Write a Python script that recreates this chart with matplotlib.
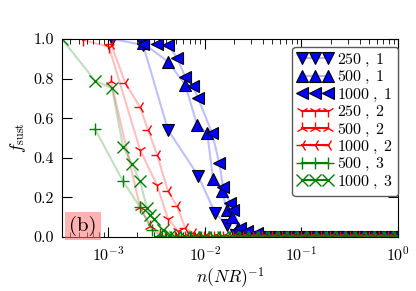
import matplotlib
matplotlib.use("Agg")
import matplotlib.pyplot as plt

plt.rcParams['font.family'] = 'serif'
plt.rcParams['font.serif'] = ['cmr10']
plt.rcParams['mathtext.fontset'] = 'cm'
plt.rcParams['axes.formatter.use_mathtext'] = True

# data: x = n/(NR), y = f_sust
b250_x = [1.1e-3, 2.3e-3, 4.17e-3, 8.53e-3, 1.28e-2, 1.70e-2, 2.1e-2]
b250_y = [1.0, 0.97, 0.54, 0.31, 0.12, 0.06, 0.01]
b500_x = [2.3e-3, 4.17e-3, 6.26e-3, 8.34e-3, 1.06e-2, 1.22e-2, 1.51e-2, 1.70e-2, 1.92e-2, 2.21e-2, 2.61e-2]
b500_y = [0.98, 0.885, 0.77, 0.565, 0.525, 0.29, 0.23, 0.135, 0.10, 0.045, 0.015]
b1000_x = [2.3e-3, 3.21e-3, 4.17e-3, 5.17e-3, 6.26e-3, 7.57e-3, 8.53e-3, 1.19e-2, 1.41e-2, 1.55e-2,
           1.83e-2, 1.96e-2, 2.32e-2, 2.74e-2, 3.48e-2]
b1000_y = [0.975, 0.975, 0.97, 0.905, 0.81, 0.76, 0.70, 0.525, 0.375, 0.25, 0.17, 0.135, 0.045, 0.03, 0.02]

r250_x = [5.5e-4, 1.02e-3, 2.14e-3, 3.21e-3, 4.17e-3, 5.29e-3]
r250_y = [0.995, 0.96, 0.44, 0.26, 0.09, 0.03]
r500_x = [1.07e-3, 2.14e-3, 2.72e-3, 3.45e-3]
r500_y = [0.79, 0.15, 0.055, 0.015]
r1000_x = [1.07e-3, 1.50e-3, 2.14e-3, 2.59e-3, 3.21e-3, 4.17e-3, 5.17e-3, 6.26e-3, 7.57e-3]
r1000_y = [0.975, 0.78, 0.655, 0.54, 0.415, 0.23, 0.155, 0.045, 0.02]

g500_x = [7.32e-4, 1.43e-3, 2.14e-3, 2.85e-3, 3.45e-3]
g500_y = [0.545, 0.28, 0.15, 0.035, 0.005]
g1000_x = [3.33e-4, 7.32e-4, 1.10e-3, 1.43e-3, 1.77e-3, 2.14e-3, 2.53e-3, 2.72e-3, 2.99e-3, 3.70e-3, 4.37e-3]
g1000_y = [1.0, 0.79, 0.75, 0.455, 0.37, 0.28, 0.145, 0.11, 0.09, 0.035, 0.01]

# points in the flat tail, all at f_sust = 0
tail_x = [0.0036, 0.0039, 0.0042, 0.0045, 0.0049, 0.0053, 0.0057, 0.0062, 0.0067, 0.0072,
          0.0078, 0.0084, 0.0091, 0.0098, 0.0106, 0.0115, 0.0124, 0.0134, 0.0145, 0.0156,
          0.0169, 0.0182, 0.0197, 0.0213, 0.023, 0.0248, 0.0268, 0.029, 0.0313, 0.0338,
          0.0365, 0.0394, 0.0426, 0.046, 0.0497, 0.0536, 0.0579, 0.0626, 0.0676, 0.073,
          0.0788, 0.0851, 0.0919, 0.0993, 0.107, 0.116, 0.125, 0.135, 0.146, 0.158,
          0.17, 0.184, 0.199, 0.215, 0.232, 0.25, 0.27, 0.292, 0.315, 0.34,
          0.368, 0.397, 0.429, 0.463, 0.5, 0.54, 0.583, 0.63, 0.68, 0.735,
          0.794, 0.857, 0.926, 1.0]

series = [
    (b250_x, b250_y, 'v', 'blue', r'$250\;,\;1$'),
    (b500_x, b500_y, '^', 'blue', r'$500\;,\;1$'),
    (b1000_x, b1000_y, '<', 'blue', r'$1000\;,\;1$'),
    (r250_x, r250_y, '1', 'red', r'$250\;,\;2$'),
    (r500_x, r500_y, '2', 'red', r'$500\;,\;2$'),
    (r1000_x, r1000_y, '3', 'red', r'$1000\;,\;2$'),
    (g500_x, g500_y, '+', 'green', r'$500\;,\;3$'),
    (g1000_x, g1000_y, 'x', 'green', r'$1000\;,\;3$'),
]

fig = plt.figure(figsize=(4.16, 2.91), dpi=100)
ax = fig.add_axes([0.149, 0.186, 0.808, 0.68])

for i, (xs, ys, m, c, lab) in enumerate(series):
    tx = [t for t in tail_x[i % 3::3] if t > xs[-1]]
    x = xs + tx
    y = ys + [0.0] * len(tx)
    filled = m in ('v', '^', '<')
    ax.plot(x, y, '-', color=c, alpha=0.25, lw=1.5)
    if filled:
        ax.plot(x, y, m, ms=9, mfc=c, mec='black', mew=0.8, ls='none')
        ax.plot([], [], m, ms=9, mfc=c, mec='black', mew=0.8, ls='-', color=(0.7, 0.7, 1.0), label=lab)
    else:
        ax.plot(x, y, m, ms=9, color=c, mew=1.0, ls='none')
        ax.plot([], [], m, ms=9, color=c, mew=1.0, ls='-', label=lab)

ax.set_xscale('log')
ax.set_xlim(1 / 3000, 1)
ax.set_ylim(0, 1)
ax.set_yticks([0, 0.2, 0.4, 0.6, 0.8, 1.0])
ax.set_yticklabels(['0.0', '0.2', '0.4', '0.6', '0.8', '1.0'])
ax.tick_params(which='both', direction='in', top=True, right=True, labelsize=11.5)
ax.tick_params(which='major', length=7, pad=6)
ax.tick_params(which='minor', length=3.5)
ax.set_xlabel(r'$n(NR)^{-1}$', fontsize=12.5, labelpad=1)
ax.set_ylabel(r'$f_{\rm sust}$', fontsize=12.5)

ax.text(0.022, 0.03, '(b)', transform=ax.transAxes, fontsize=15,
        bbox=dict(facecolor=(1.0, 0.45, 0.45), alpha=0.55, edgecolor='none', pad=3))

leg = ax.legend(loc='upper right', bbox_to_anchor=(1.0, 0.96), borderaxespad=0,
                numpoints=3, fontsize=11.5, labelspacing=0.02, handlelength=2.2,
                handletextpad=0.3, borderpad=0.3, framealpha=1, fancybox=True)
leg.get_frame().set_edgecolor('0.35')

fig.savefig('out.png', dpi=100)
